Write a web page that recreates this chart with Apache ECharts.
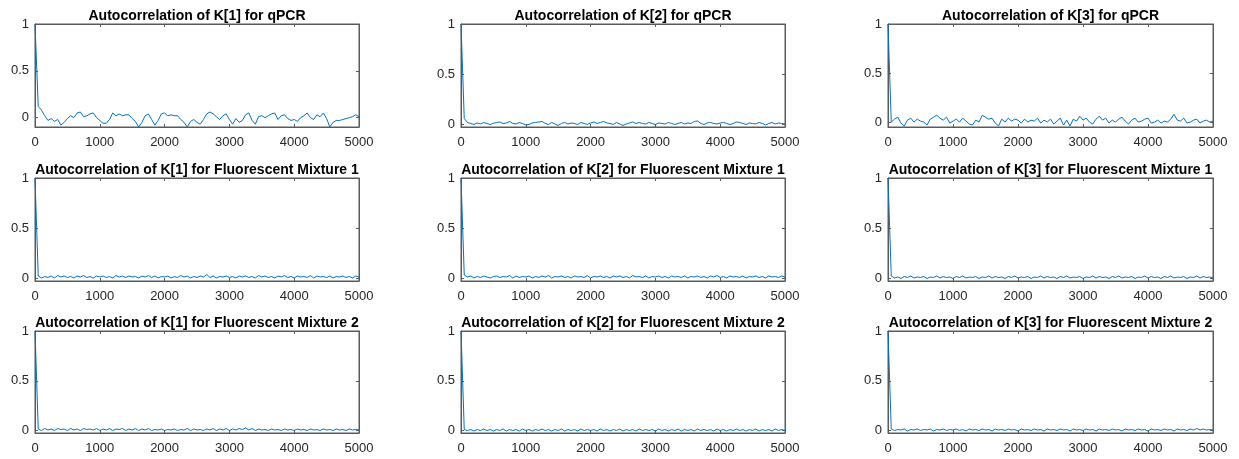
<!DOCTYPE html>
<html>
<head>
<meta charset="utf-8">
<script src="https://cdn.jsdelivr.net/npm/echarts@6/dist/echarts.min.js"></script>
<style>
html, body { margin: 0; padding: 0; background: #fff; }
#main { width: 1239px; height: 459px; }
</style>
</head>
<body>
<div id="main"></div>
<script>
// lag spacing of the values below
var lagStep = 50;

var titles = [
    'Autocorrelation of K[1] for qPCR',
    'Autocorrelation of K[2] for qPCR',
    'Autocorrelation of K[3] for qPCR',
    'Autocorrelation of K[1] for Fluorescent Mixture 1',
    'Autocorrelation of K[2] for Fluorescent Mixture 1',
    'Autocorrelation of K[3] for Fluorescent Mixture 1',
    'Autocorrelation of K[1] for Fluorescent Mixture 2',
    'Autocorrelation of K[2] for Fluorescent Mixture 2',
    'Autocorrelation of K[3] for Fluorescent Mixture 2'
];

var xTicks = [0, 1000, 2000, 3000, 4000, 5000];
var yTicks = [0, 0.5, 1];

var k1Qpcr = [1,
    0.12, 0.08, 0.02, -0.03, -0.01, -0.04, -0.02, -0.08, -0.05, -0.01,
    0.02, 0.0, 0.05, 0.06, 0.01, 0.02, 0.04, 0.05, 0.0, -0.03,
    -0.06, -0.06, -0.02, 0.05, 0.02, 0.04, 0.02, 0.03, 0.03, -0.01,
    -0.04, -0.1, -0.05, 0.02, 0.04, -0.02, -0.08, -0.03, 0.04, 0.05,
    0.02, 0.03, 0.02, 0.02, -0.02, -0.05, -0.1, -0.04, -0.02, -0.05,
    -0.07, -0.02, 0.04, 0.06, 0.04, 0.01, -0.02, 0.02, 0.04, -0.02,
    -0.07, -0.01, -0.05, -0.03, 0.03, 0.05, -0.03, -0.07, 0.01, 0.02,
    0.0, 0.02, 0.04, 0.05, -0.02, 0.02, 0.03, -0.01, -0.03, -0.02,
    -0.04, 0.0, 0.02, 0.05, 0.0, -0.02, 0.03, 0.01, 0.05, -0.01,
    -0.1, -0.05, -0.03, -0.03, -0.02, -0.01, 0.0, 0.01, 0.03, 0.01];

var k2Qpcr = [1,
    0.06, 0.02, 0.01, 0.0, 0.015, 0.005, 0.02, 0.01, 0.0, 0.012,
    0.02, 0.025, 0.008, 0.015, 0.03, 0.01, 0.005, 0.02, 0.01, -0.005,
    0.0, 0.015, 0.02, 0.025, 0.03, 0.01, 0.0, 0.02, 0.005, -0.01,
    0.01, 0.02, 0.005, 0.015, 0.01, 0.0, 0.02, 0.01, 0.0, 0.015,
    0.025, 0.01, 0.02, 0.03, 0.015, 0.01, 0.0, 0.02, 0.005, -0.01,
    0.005, 0.015, 0.025, 0.01, 0.02, 0.01, 0.005, 0.02, 0.01, 0.0,
    0.015, 0.01, 0.005, 0.02, 0.01, 0.0, 0.01, 0.02, 0.005, 0.015,
    0.01, 0.03, 0.035, 0.01, 0.0, 0.015, 0.02, 0.01, 0.005, 0.015,
    0.02, 0.01, 0.0, 0.01, 0.025, 0.02, 0.01, 0.0, 0.015, 0.01,
    0.005, 0.02, 0.01, -0.005, 0.01, 0.02, 0.005, 0.015, 0.01, 0.005];

var k3Qpcr = [1,
    0.0, 0.03, 0.05, -0.01, -0.04, 0.02, 0.04, 0.0, 0.03, 0.01,
    0.0, -0.03, 0.03, 0.05, 0.07, 0.04, 0.02, 0.05, -0.01, 0.01,
    0.03, 0.0, 0.04, 0.01, -0.02, -0.03, 0.02, 0.0, 0.07, 0.05,
    0.03, 0.04, -0.01, -0.04, 0.03, 0.0, 0.04, 0.01, 0.03, 0.02,
    -0.01, 0.03, 0.0, 0.02, 0.01, 0.04, -0.01, 0.02, 0.0, 0.03,
    -0.02, 0.01, 0.04, -0.03, 0.02, -0.04, 0.03, 0.01, 0.06, 0.02,
    0.04, 0.0, -0.02, 0.03, 0.06, 0.02, 0.04, -0.01, 0.02, 0.0,
    0.03, 0.05, 0.01, -0.02, 0.02, 0.04, 0.0, 0.01, 0.03, 0.04,
    -0.01, 0.0, 0.02, -0.01, 0.01, 0.0, 0.03, 0.08, 0.02, 0.01,
    0.04, -0.01, 0.0, 0.02, 0.03, -0.01, 0.01, 0.02, 0.0, 0.01];

var k1Mix1 = [1,
    0.02, 0.0, 0.015, 0.005, 0.02, 0.0, 0.025, 0.01, 0.02, 0.005,
    0.015, 0.0, 0.02, 0.01, 0.025, 0.005, 0.015, 0.0, 0.02, 0.01,
    0.02, 0.005, 0.015, 0.0, 0.025, 0.01, 0.02, 0.005, 0.02, 0.01,
    0.015, 0.0, 0.02, 0.01, 0.025, 0.005, 0.02, 0.0, 0.015, 0.01,
    0.02, 0.0, 0.015, 0.005, 0.025, 0.01, 0.02, 0.0, 0.015, 0.005,
    0.02, 0.01, 0.035, 0.005, 0.02, 0.0, 0.015, 0.01, 0.02, 0.005,
    0.015, 0.0, 0.02, 0.01, 0.02, 0.005, 0.015, 0.0, 0.025, 0.01,
    0.02, 0.005, 0.015, 0.0, 0.02, 0.01, 0.025, 0.005, 0.015, 0.0,
    0.02, 0.01, 0.015, 0.005, 0.025, 0.0, 0.02, 0.01, 0.015, 0.005,
    0.02, 0.0, 0.015, 0.01, 0.02, 0.005, 0.015, 0.0, 0.02, 0.01];

var k2Mix1 = [1,
    0.03, 0.01, 0.02, 0.0, 0.015, 0.005, 0.02, 0.01, 0.0, 0.015,
    0.02, 0.005, 0.015, 0.01, 0.025, 0.0, 0.02, 0.005, 0.015, 0.01,
    0.02, 0.0, 0.015, 0.005, 0.02, 0.01, 0.025, 0.0, 0.015, 0.01,
    0.02, 0.005, 0.015, 0.0, 0.02, 0.01, 0.015, 0.005, 0.025, 0.0,
    0.015, 0.01, 0.02, 0.005, 0.015, 0.0, 0.02, 0.01, 0.02, 0.005,
    0.015, 0.0, 0.025, 0.01, 0.015, 0.005, 0.02, 0.0, 0.015, 0.01,
    0.02, 0.005, 0.015, 0.0, 0.02, 0.01, 0.015, 0.005, 0.02, 0.0,
    0.015, 0.01, 0.02, 0.005, 0.015, 0.0, 0.02, 0.01, 0.025, 0.005,
    0.015, 0.0, 0.02, 0.01, 0.015, 0.005, 0.02, 0.0, 0.015, 0.01,
    0.02, 0.005, 0.015, 0.0, 0.02, 0.01, 0.015, 0.005, 0.02, 0.01];

var k3Mix1 = [1,
    0.02, 0.0, 0.01, -0.005, 0.015, 0.005, 0.02, 0.0, 0.01, 0.005,
    0.015, -0.005, 0.01, 0.005, 0.02, 0.0, 0.015, 0.005, 0.01, -0.005,
    0.015, 0.005, 0.02, 0.0, 0.01, 0.005, 0.015, -0.005, 0.01, 0.005,
    0.02, 0.0, 0.015, 0.005, 0.01, -0.005, 0.015, 0.005, 0.02, 0.0,
    0.01, 0.005, 0.015, -0.005, 0.01, 0.005, 0.02, 0.0, 0.015, 0.005,
    0.01, -0.005, 0.015, 0.005, 0.02, 0.0, 0.01, 0.005, 0.015, -0.005,
    0.01, 0.005, 0.02, 0.0, 0.015, 0.005, 0.01, -0.005, 0.015, 0.005,
    0.02, 0.0, 0.01, 0.005, 0.015, -0.005, 0.01, 0.005, 0.02, 0.0,
    0.015, 0.005, 0.01, -0.005, 0.015, 0.005, 0.02, 0.0, 0.01, 0.005,
    0.015, -0.005, 0.01, 0.005, 0.02, 0.0, 0.015, 0.005, 0.01, 0.0];

var k1Mix2 = [1,
    0.015, 0.0, 0.02, 0.005, 0.015, 0.0, 0.02, 0.01, 0.015, 0.0,
    0.02, 0.005, 0.015, 0.0, 0.02, 0.01, 0.015, 0.005, 0.02, 0.0,
    0.015, 0.005, 0.02, 0.0, 0.015, 0.01, 0.02, 0.0, 0.015, 0.005,
    0.02, 0.0, 0.015, 0.005, 0.02, 0.0, 0.01, 0.005, 0.015, 0.0,
    0.01, 0.005, 0.015, 0.0, 0.01, 0.005, 0.02, 0.0, 0.015, 0.005,
    0.01, 0.0, 0.015, 0.005, 0.02, 0.0, 0.015, 0.005, 0.02, 0.0,
    0.015, 0.005, 0.02, 0.01, 0.025, 0.005, 0.02, 0.0, 0.015, 0.005,
    0.01, 0.0, 0.015, 0.005, 0.01, 0.0, 0.015, 0.005, 0.01, 0.0,
    0.015, 0.005, 0.01, 0.0, 0.015, 0.005, 0.01, 0.0, 0.015, 0.005,
    0.01, 0.0, 0.015, 0.005, 0.01, 0.0, 0.015, 0.005, 0.01, 0.005];

var k2Mix2 = [1,
    0.01, 0.0, 0.01, -0.005, 0.01, 0.0, 0.015, 0.0, 0.01, -0.005,
    0.01, 0.0, 0.015, -0.005, 0.01, 0.0, 0.01, -0.005, 0.015, 0.0,
    0.01, -0.005, 0.01, 0.0, 0.015, 0.0, 0.01, -0.005, 0.01, 0.0,
    0.015, -0.005, 0.01, 0.0, 0.01, -0.005, 0.015, 0.0, 0.01, 0.0,
    0.01, -0.005, 0.015, 0.0, 0.01, -0.005, 0.01, 0.0, 0.015, -0.005,
    0.01, 0.0, 0.01, -0.005, 0.015, 0.0, 0.01, 0.0, 0.01, -0.005,
    0.015, 0.0, 0.01, -0.005, 0.01, 0.0, 0.015, -0.005, 0.01, 0.0,
    0.01, -0.005, 0.015, 0.0, 0.01, 0.0, 0.01, -0.005, 0.015, 0.0,
    0.01, -0.005, 0.01, 0.0, 0.015, 0.0, 0.01, -0.005, 0.01, 0.0,
    0.015, -0.005, 0.01, 0.0, 0.01, -0.005, 0.015, 0.0, 0.01, 0.0];

var k3Mix2 = [1,
    0.015, 0.0, 0.01, 0.005, 0.015, -0.005, 0.01, 0.005, 0.015, 0.0,
    0.01, 0.005, 0.015, -0.005, 0.01, 0.005, 0.015, 0.0, 0.01, 0.005,
    0.015, 0.0, 0.01, -0.005, 0.015, 0.005, 0.01, 0.0, 0.015, 0.005,
    0.01, -0.005, 0.015, 0.005, 0.01, 0.0, 0.015, 0.005, 0.01, -0.005,
    0.015, 0.005, 0.01, 0.0, 0.015, 0.005, 0.01, -0.005, 0.015, 0.005,
    0.01, 0.0, 0.015, 0.005, 0.01, -0.005, 0.015, 0.005, 0.01, 0.0,
    0.015, 0.005, 0.01, -0.005, 0.015, 0.005, 0.01, 0.0, 0.015, 0.005,
    0.01, -0.005, 0.015, 0.005, 0.01, 0.0, 0.015, 0.005, 0.01, -0.005,
    0.015, 0.005, 0.01, 0.0, 0.015, 0.005, 0.01, -0.005, 0.015, 0.005,
    0.01, 0.0, 0.015, 0.005, 0.02, 0.005, 0.015, 0.005, 0.01, 0.005];

var panelData = [k1Qpcr, k2Qpcr, k3Qpcr, k1Mix1, k2Mix1, k3Mix1, k1Mix2, k2Mix2, k3Mix2];
// lower end of each y axis
var yMins = [-0.1, -0.025, -0.05, -0.03, -0.03, -0.03, -0.025, -0.025, -0.025];

var myChart = echarts.init(document.getElementById('main'));

var colLeft = [35, 461, 888];
var colWidth = [324, 324, 325];
var rowTop = [24, 178, 331];
var rowHeight = [103, 103, 102];

var axisColor = '#5a5a5a';
var labelColor = '#262626';
var fontName = '"Liberation Sans", Arial, sans-serif';

function plain(v) { return String(v); }

var grids = [], xAxes = [], yAxes = [], series = [], texts = [];

for (var i = 0; i < 9; i++) {
    var r = Math.floor(i / 3), c = i % 3;
    grids.push({
        left: colLeft[c], top: rowTop[r], width: colWidth[c], height: rowHeight[r],
        show: true, borderColor: axisColor, borderWidth: 1, backgroundColor: '#fff'
    });
    // bottom and top x axes
    xAxes.push({
        type: 'value', gridIndex: i, min: 0, max: 5000, interval: 1000,
        axisLine: { show: true, onZero: false, lineStyle: { color: axisColor, width: 1 } },
        axisTick: { show: true, inside: true, length: 3, lineStyle: { color: axisColor } },
        axisLabel: { color: labelColor, fontSize: 13, fontFamily: fontName, margin: 9, formatter: plain },
        splitLine: { show: false }
    });
    xAxes.push({
        type: 'value', gridIndex: i, position: 'top', min: 0, max: 5000, interval: 1000,
        axisLine: { show: true, onZero: false, lineStyle: { color: axisColor, width: 1 } },
        axisTick: { show: true, inside: true, length: 3, lineStyle: { color: axisColor } },
        axisLabel: { show: false },
        splitLine: { show: false }
    });
    // left and right y axes
    yAxes.push({
        type: 'value', gridIndex: i, min: yMins[i], max: 1,
        axisLine: { show: true, onZero: false, lineStyle: { color: axisColor, width: 1 } },
        axisTick: { show: true, inside: true, length: 3, customValues: yTicks, lineStyle: { color: axisColor } },
        axisLabel: { color: labelColor, fontSize: 13, fontFamily: fontName, margin: 6, customValues: yTicks, formatter: plain },
        splitLine: { show: false }
    });
    yAxes.push({
        type: 'value', gridIndex: i, position: 'right', min: yMins[i], max: 1,
        axisLine: { show: true, onZero: false, lineStyle: { color: axisColor, width: 1 } },
        axisTick: { show: true, inside: true, length: 3, customValues: yTicks, lineStyle: { color: axisColor } },
        axisLabel: { show: false, customValues: yTicks },
        splitLine: { show: false }
    });
    var pts = panelData[i].map(function (v, k) { return [k * lagStep, v]; });
    series.push({
        type: 'line', xAxisIndex: 2 * i, yAxisIndex: 2 * i, data: pts,
        showSymbol: false, symbol: 'none', clip: true,
        lineStyle: { color: '#0072BD', width: 1 }
    });
    texts.push({
        type: 'text',
        x: colLeft[c] + colWidth[c] / 2,
        y: rowTop[r] - 8,
        style: {
            text: titles[i], fill: '#000',
            font: 'bold 14px ' + fontName,
            textAlign: 'center', textVerticalAlign: 'middle'
        }
    });
}

var option = {
    animation: false,
    backgroundColor: '#fff',
    grid: grids,
    xAxis: xAxes,
    yAxis: yAxes,
    series: series,
    graphic: texts
};

myChart.setOption(option);
</script>
</body>
</html>
